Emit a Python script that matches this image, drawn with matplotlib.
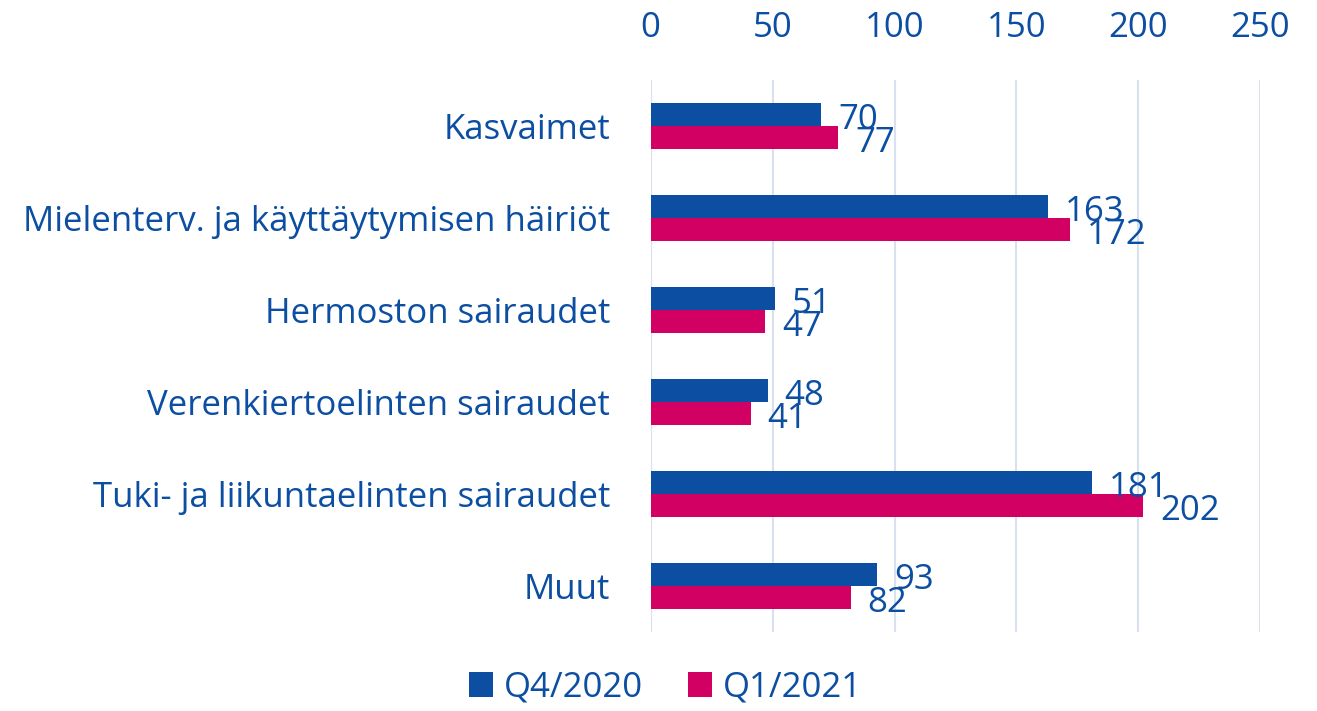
import numpy as np
import matplotlib.pyplot as plt

plt.rcParams['font.family'] = ['Open Sans', 'DejaVu Sans']

categories = ["Kasvaimet", "Mielenterv. ja käyttäytymisen häiriöt", "Hermoston sairaudet",
              "Verenkiertoelinten sairaudet", "Tuki- ja liikuntaelinten sairaudet", "Muut"]
q4_2020 = [70, 163, 51, 48, 181, 93]
q1_2021 = [77, 172, 47, 41, 202, 82]
series_names = ["Q4/2020", "Q1/2021"]
ticks = [0, 50, 100, 150, 200, 250]

blue = "#0B4EA2"
pink = "#D10062"
grid = "#D9E1EE"

fig = plt.figure(figsize=(13.17, 7.11), dpi=100)
ax = fig.add_axes([0.494, 0.111, 0.463, 0.7765])

y = np.arange(len(categories))
h = 0.25
b1 = ax.barh(y - h / 2, q4_2020, height=h, color=blue, label=series_names[0], zorder=3)
b2 = ax.barh(y + h / 2, q1_2021, height=h, color=pink, label=series_names[1], zorder=3)

# value labels, slightly right of bar ends
for bars, vals in [(b1, q4_2020), (b2, q1_2021)]:
    for bar, v in zip(bars, vals):
        ax.annotate(str(v), (v, bar.get_y() + bar.get_height() / 2),
                    xytext=(12, -4), textcoords="offset points",
                    ha="left", va="center", fontsize=25, color=blue, zorder=4)

ax.set_ylim(len(categories) - 0.5, -0.5)
ax.set_xlim(0, 250)
ax.set_xticks(ticks)
ax.xaxis.tick_top()
ax.tick_params(axis="x", length=0, pad=25, labelsize=25, labelcolor=blue)
ax.set_yticks(y)
ax.set_yticklabels(categories)
ax.tick_params(axis="y", length=0, pad=29, labelsize=25, labelcolor=blue)
ax.grid(axis="x", color=grid, linewidth=1.5, zorder=0)
for s in ax.spines.values():
    s.set_visible(False)
ax.axvline(0, color="#C9DAF0", linewidth=1.5, zorder=1)

fig.legend(handles=[b1, b2], labels=series_names, loc="lower center",
           bbox_to_anchor=(0.505, -0.035), ncol=2, frameon=False, fontsize=25,
           labelcolor=blue, handlelength=0.7, handleheight=0.7, handletextpad=0.3,
           columnspacing=1.3)

fig.savefig("out.png", dpi=100)
